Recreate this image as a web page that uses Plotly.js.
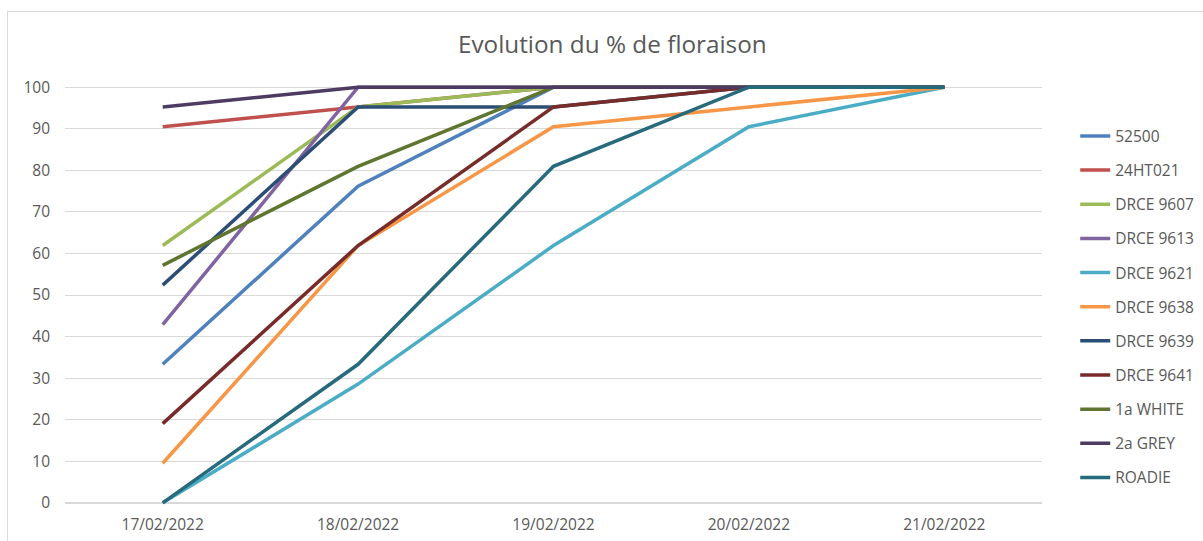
<!DOCTYPE html>
<html>
<head>
<meta charset="utf-8">
<script src="https://cdn.plot.ly/plotly-3.0.1.min.js"></script>
<style>
html,body{margin:0;padding:0;background:#fff;}
#frame{position:absolute;left:7px;top:11px;width:1300px;height:600px;border-top:1px solid #d9d9d9;border-left:1px solid #d9d9d9;pointer-events:none;}
#chart{position:absolute;left:0;top:0;width:1203px;height:541px;}
</style>
</head>
<body>
<div id="chart"></div>
<div id="frame"></div>
<script>
var dates = ["17/02/2022","18/02/2022","19/02/2022","20/02/2022","21/02/2022"];
var seriesNames = ["52500","24HT021","DRCE 9607","DRCE 9613","DRCE 9621","DRCE 9638","DRCE 9639","DRCE 9641","1a WHITE","2a GREY","ROADIE"];
var s52500   = [33.33, 76.19, 100, 100, 100];
var s24HT021 = [90.48, 95.24, 100, 100, 100];
var s9607    = [61.90, 95.24, 100, 100, 100];
var s9613    = [42.86, 100, 100, 100, 100];
var s9621    = [0, 28.57, 61.90, 90.48, 100];
var s9638    = [9.52, 61.90, 90.48, 95.24, 100];
var s9639    = [52.38, 95.24, 95.24, 100, 100];
var s9641    = [19.05, 61.90, 95.24, 100, 100];
var s1aWhite = [57.14, 80.95, 100, 100, 100];
var s2aGrey  = [95.24, 100, 100, 100, 100];
var sRoadie  = [0, 33.33, 80.95, 100, 100];
var seriesValues = [s52500, s24HT021, s9607, s9613, s9621, s9638, s9639, s9641, s1aWhite, s2aGrey, sRoadie];
var colors = ["#4F81BD","#C0504D","#9BBB59","#8064A2","#4BACC6","#F79646","#2C4D75","#772C2A","#5F7530","#4D3B62","#276A7C"];

var traces = seriesNames.map(function(n,i){
  return {
    type:"scatter", mode:"lines", name:n, x:dates, y:seriesValues[i],
    line:{color:colors[i], width:3.5}, legendgroup:"g"+i
  };
});

var fontFam = "Open Sans, Noto Sans, sans-serif";
var layout = {
  width:1203, height:541,
  margin:{l:65, r:161, t:83, b:34, autoexpand:false},
  paper_bgcolor:"#fff", plot_bgcolor:"#fff",
  title:{text:"Evolution du % de floraison", x:0.509, xanchor:"center", y:0.917, yanchor:"middle",
         font:{family:fontFam, size:24.3, color:"#595959"}},
  xaxis:{type:"category", showgrid:false, zeroline:false, showline:false, ticks:"",
         range:[-0.5,4.5], automargin:false,
         tickfont:{family:fontFam, size:15.5, color:"#595959"}, ticklabelstandoff:6},
  yaxis:{range:[-1,101], tickvals:[0,10,20,30,40,50,60,70,80,90,100], automargin:false,
         showgrid:true, gridcolor:"#d9d9d9", gridwidth:1,
         zeroline:true, zerolinecolor:"#d9d9d9", zerolinewidth:1.5,
         showline:false, ticks:"",
         tickfont:{family:fontFam, size:15.5, color:"#595959"}, ticklabelstandoff:14},
  legend:{x:1.034, xanchor:"left", y:0.472, yanchor:"middle", traceorder:"grouped", tracegroupgap:11,
          font:{family:fontFam, size:15.5, color:"#595959"}, bgcolor:"rgba(0,0,0,0)",
          itemwidth:30},
  showlegend:true
};

Plotly.newPlot("chart", traces, layout, {displayModeBar:false, staticPlot:true});
</script>
</body>
</html>
